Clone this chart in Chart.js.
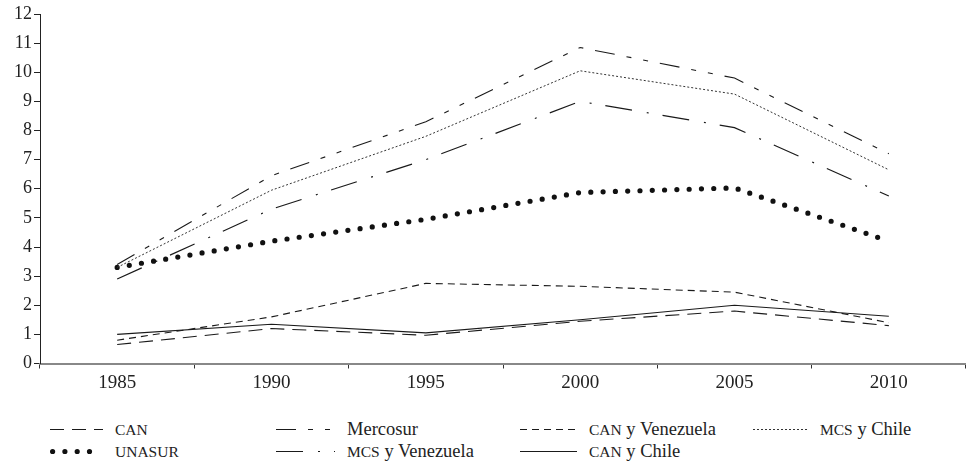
<!DOCTYPE html>
<html>
<head>
<meta charset="utf-8">
<script src="https://cdn.jsdelivr.net/npm/chart.js@4/dist/chart.umd.min.js"></script>
<style>
    body { margin: 0; background: #fff; }
    #wrap { position: relative; width: 966px; height: 463px; }
    #chartBox { position: absolute; left: 0; top: 0; width: 966px; height: 400px; }
    .legItem { position: absolute; height: 22px; display: flex; align-items: center; }
    .legItem span { font-family: 'Liberation Serif', 'Times New Roman', serif; font-size: 18.5px; color: #222; white-space: nowrap; }
    .legItem span small { font-size: 15.5px; }
</style>
</head>
<body>
<div id="wrap">
    <div id="chartBox"><canvas id="chart"></canvas></div>
    <div id="legend"></div>
</div>
<script>
const years = ['1985', '1990', '1995', '2000', '2005', '2010'];

const canValues = [0.65, 1.2, 0.97, 1.45, 1.8, 1.3];
const mercosurValues = [3.4, 6.45, 8.3, 10.85, 9.8, 7.2];
const canVenValues = [0.8, 1.6, 2.75, 2.65, 2.45, 1.4];
const mcsChileValues = [3.3, 5.95, 7.8, 10.05, 9.25, 6.65];
const unasurValues = [3.3, 4.2, 4.95, 5.87, 6.03, 4.2];
const mcsVenValues = [2.9, 5.3, 7.0, 9.0, 8.1, 5.75];
const canChileValues = [1.0, 1.35, 1.05, 1.5, 2.0, 1.62];

const yTicks = { min: 0, max: 12, step: 1 };

// legend order, as in the figure: row 1 then row 2
const legendOrder = ['CAN', 'Mercosur', 'CAN y Venezuela', 'MCS y Chile', 'UNASUR', 'MCS y Venezuela', 'CAN y Chile'];

const ink = '#1a1a1a';

const chartData = {
    labels: years,
    datasets: [{
        label: 'CAN',
        data: canValues,
        borderColor: ink,
        borderWidth: 1.1,
        borderDash: [14, 8]
    },
    {
        label: 'Mercosur',
        data: mercosurValues,
        borderColor: ink,
        borderWidth: 1.1,
        borderDash: [20, 12, 5, 12, 5, 12]
    },
    {
        label: 'CAN y Venezuela',
        data: canVenValues,
        borderColor: ink,
        borderWidth: 1.1,
        borderDash: [7, 5]
    },
    {
        label: 'MCS y Chile',
        data: mcsChileValues,
        borderColor: '#333',
        borderWidth: 1,
        borderDash: [2, 2]
    },
    {
        label: 'UNASUR',
        data: unasurValues,
        borderColor: '#111',
        borderWidth: 5.2,
        borderDash: [0, 12.3],
        borderCapStyle: 'round'
    },
    {
        label: 'MCS y Venezuela',
        data: mcsVenValues,
        borderColor: ink,
        borderWidth: 1.2,
        borderDash: [27, 15, 2, 14]
    },
    {
        label: 'CAN y Chile',
        data: canChileValues,
        borderColor: ink,
        borderWidth: 1.1,
        borderDash: []
    }]
};

const serif = "'Liberation Serif', 'Times New Roman', serif";

const config = {
    type: 'line',
    data: chartData,
    options: {
        responsive: true,
        maintainAspectRatio: false,
        animation: false,
        layout: { padding: { top: 14, right: 0, left: 0, bottom: 0 } },
        elements: {
            point: { radius: 0, hoverRadius: 0 },
            line: { tension: 0, fill: false }
        },
        plugins: {
            legend: { display: false },
            tooltip: { enabled: false }
        },
        scales: {
            x: {
                type: 'category',
                offset: true,
                grid: { offset: true, drawOnChartArea: false, drawTicks: true, tickLength: 5, color: '#333' },
                border: { display: true, color: '#888', width: 2 },
                ticks: { color: '#222', font: { family: serif, size: 19 }, padding: 3, maxRotation: 0, autoSkip: false },
                afterFit: s => { s.height = 36.5; }
            },
            y: {
                min: yTicks.min,
                max: yTicks.max,
                grid: { drawOnChartArea: false, drawTicks: true, tickLength: 6, color: '#222' },
                border: { display: true, color: '#222', width: 1 },
                ticks: { stepSize: yTicks.step, color: '#222', font: { family: serif, size: 18 }, padding: 2 },
                afterFit: s => { s.width = 40; }
            }
        }
    }
};

const chart = new Chart(document.getElementById('chart'), config);

// HTML legend laid out in four columns like the original figure
const legendCols = [50, 276, 520, 753];
const legendTextX = [115, 347, 589, 820];
const legendRows = [429, 451];
const legendBox = document.getElementById('legend');

legendOrder.forEach((name, i) => {
    const ds = chartData.datasets.find(d => d.label === name);
    const col = i % 4;
    const row = Math.floor(i / 4);
    const item = document.createElement('div');
    item.className = 'legItem';
    item.style.left = legendCols[col] + 'px';
    item.style.top = (legendRows[row] - 11) + 'px';

    const w = legendTextX[col] - legendCols[col] - 12;
    const c = document.createElement('canvas');
    c.width = w;
    c.height = 22;
    c.style.marginRight = '12px';
    const ctx = c.getContext('2d');
    ctx.strokeStyle = ds.borderColor;
    ctx.lineWidth = ds.borderWidth;
    ctx.lineCap = ds.borderCapStyle || 'butt';
    ctx.setLineDash(ds.borderDash);
    ctx.beginPath();
    const pad = ds.borderCapStyle === 'round' ? ds.borderWidth / 2 : 0;
    ctx.moveTo(pad, 11.5);
    ctx.lineTo(w - pad, 11.5);
    ctx.stroke();
    item.appendChild(c);

    const txt = document.createElement('span');
    txt.innerHTML = name.replace(/\b([A-Z]{2,})\b/g, '<small>$1</small>');
    item.appendChild(txt);
    legendBox.appendChild(item);
});
</script>
</body>
</html>
